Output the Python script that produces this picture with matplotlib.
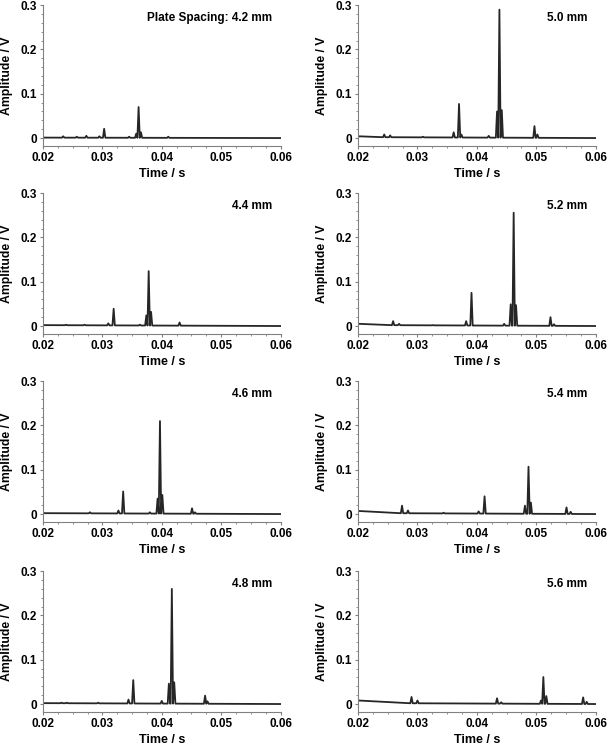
import numpy as np
import matplotlib
matplotlib.use('Agg')
import matplotlib.pyplot as plt
from matplotlib.ticker import MultipleLocator

plt.rcParams['font.family'] = ['Liberation Sans', 'DejaVu Sans']
plt.rcParams['font.weight'] = 'bold'

# =============================================================================
# DATA
# -----------------------------------------------------------------------------
# each panel: baseline points (time, volts) and spikes (time, peak volts)
# =============================================================================
spacing_labels = ['Plate Spacing: 4.2 mm', '4.4 mm', '4.6 mm', '4.8 mm',
                  '5.0 mm', '5.2 mm', '5.4 mm', '5.6 mm']

base_t_42 = [0.020, 0.060]
base_v_42 = [0.001, 0.000]
peak_t_42 = [0.0234, 0.0257, 0.0273, 0.0295, 0.0303, 0.0345, 0.0357, 0.0361, 0.0365, 0.0411]
peak_v_42 = [0.004, 0.003, 0.005, 0.004, 0.021, 0.003, 0.010, 0.070, 0.013, 0.003]

base_t_44 = [0.020, 0.060]
base_v_44 = [0.002, 0.000]
peak_t_44 = [0.0239, 0.0270, 0.0310, 0.0319, 0.0363, 0.0374, 0.0378, 0.0382, 0.0430]
peak_v_44 = [0.003, 0.003, 0.006, 0.039, 0.003, 0.024, 0.124, 0.032, 0.008]

base_t_46 = [0.020, 0.060]
base_v_46 = [0.002, 0.000]
peak_t_46 = [0.0279, 0.0327, 0.0335, 0.0380, 0.0393, 0.0397, 0.0401, 0.0451, 0.0456]
peak_v_46 = [0.004, 0.008, 0.051, 0.004, 0.035, 0.210, 0.043, 0.013, 0.004]

base_t_48 = [0.020, 0.060]
base_v_48 = [0.002, 0.000]
peak_t_48 = [0.0231, 0.0240, 0.0293, 0.0344, 0.0352, 0.0400, 0.0412, 0.0417, 0.0421, 0.0473, 0.0477]
peak_v_48 = [0.003, 0.003, 0.003, 0.010, 0.054, 0.007, 0.046, 0.260, 0.049, 0.019, 0.006]

base_t_50 = [0.020, 0.023, 0.060]
base_v_50 = [0.004, 0.002, 0.000]
peak_t_50 = [0.0244, 0.0254, 0.0309, 0.0361, 0.0370, 0.0374, 0.0420, 0.0434, 0.0438, 0.0442, 0.0497, 0.0502]
peak_v_50 = [0.008, 0.006, 0.003, 0.013, 0.077, 0.008, 0.005, 0.060, 0.290, 0.063, 0.027, 0.008]

base_t_52 = [0.020, 0.024, 0.060]
base_v_52 = [0.005, 0.002, 0.000]
peak_t_52 = [0.0259, 0.0269, 0.0326, 0.0382, 0.0391, 0.0446, 0.0457, 0.0462, 0.0466, 0.0524, 0.0530]
peak_v_52 = [0.011, 0.005, 0.002, 0.011, 0.075, 0.005, 0.049, 0.256, 0.047, 0.020, 0.004]

base_t_54 = [0.020, 0.025, 0.060]
base_v_54 = [0.007, 0.002, 0.000]
peak_t_54 = [0.0274, 0.0284, 0.0344, 0.0403, 0.0413, 0.0481, 0.0487, 0.0491, 0.0551, 0.0558]
peak_v_54 = [0.019, 0.008, 0.003, 0.006, 0.040, 0.019, 0.107, 0.026, 0.015, 0.005]

base_t_56 = [0.020, 0.024, 0.060]
base_v_56 = [0.008, 0.002, 0.000]
peak_t_56 = [0.0290, 0.0300, 0.0434, 0.0441, 0.0508, 0.0512, 0.0517, 0.0579, 0.0585]
peak_v_56 = [0.016, 0.008, 0.013, 0.004, 0.008, 0.061, 0.018, 0.015, 0.005]

panels = [
    (base_t_42, base_v_42, peak_t_42, peak_v_42),
    (base_t_44, base_v_44, peak_t_44, peak_v_44),
    (base_t_46, base_v_46, peak_t_46, peak_v_46),
    (base_t_48, base_v_48, peak_t_48, peak_v_48),
    (base_t_50, base_v_50, peak_t_50, peak_v_50),
    (base_t_52, base_v_52, peak_t_52, peak_v_52),
    (base_t_54, base_v_54, peak_t_54, peak_v_54),
    (base_t_56, base_v_56, peak_t_56, peak_v_56),
]

x_ticks = [0.02, 0.03, 0.04, 0.05, 0.06]
x_tick_labels = ['0.02', '0.03', '0.04', '0.05', '0.06']
y_ticks = [0, 0.1, 0.2, 0.3]
y_tick_labels = ['0', '0.1', '0.2', '0.3']


# =============================================================================
# BUILD SPIKE TRACE
# -----------------------------------------------------------------------------
# baseline polyline with a narrow triangular spike at each listed peak
# =============================================================================
def spike_trace(bt, bv, pt, pv, hw=0.0002):
    xs = [bt[0]]
    ys = [bv[0]]
    for t, v in sorted(zip(pt, pv)):
        foot = np.interp([t - hw, t + hw], bt, bv)
        xs += [t - hw, t, t + hw]
        ys += [foot[0], v, foot[1]]
    xs.append(bt[-1])
    ys.append(bv[-1])
    return np.array(xs), np.array(ys)


# =============================================================================
# FIGURE: 4 rows x 2 columns, placed by hand
# =============================================================================
fig = plt.figure(figsize=(6.09, 7.45), dpi=100)

col_left = [0.0706, 0.588]
col_w = 0.390
row_bottom = [0.804, 0.5517, 0.2993, 0.0443]
row_h = 0.189

grey = '#808080'

for i, (bt, bv, pt, pv) in enumerate(panels):
    col = i // 4
    row = i % 4
    ax = fig.add_axes([col_left[col], row_bottom[row], col_w, row_h])

    x, y = spike_trace(bt, bv, pt, pv)
    ax.plot(x, y, color='#262626', linewidth=1.3)

    ax.set_xlim(0.02, 0.06)
    ax.set_ylim(-0.018, 0.3)
    ax.set_xticks(x_ticks)
    ax.set_xticklabels(x_tick_labels)
    ax.set_yticks(y_ticks)
    ax.set_yticklabels(y_tick_labels)
    ax.xaxis.set_minor_locator(MultipleLocator(0.0025))
    ax.yaxis.set_minor_locator(MultipleLocator(0.02))

    for side in ['top', 'right']:
        ax.spines[side].set_visible(False)
    for side in ['left', 'bottom']:
        ax.spines[side].set_color(grey)
        ax.spines[side].set_linewidth(0.8)

    ax.tick_params(which='major', direction='out', length=2.5, width=0.8,
                   color=grey, labelsize=8.5, pad=2)
    ax.tick_params(which='minor', direction='out', length=1.2, width=0.6,
                   color=grey)

    ax.set_xlabel('Time / s', fontsize=9, fontweight='bold')
    ax.set_ylabel('Amplitude / V', fontsize=8.8, fontweight='bold')
    ax.xaxis.set_label_coords(0.5, -0.155)
    ax.yaxis.set_label_coords(-0.127, 0.5)

    ax.text(0.965, 0.91, spacing_labels[i], transform=ax.transAxes,
            ha='right', va='center', fontsize=8.5, fontweight='bold')

plt.savefig('out.png', dpi=100)
